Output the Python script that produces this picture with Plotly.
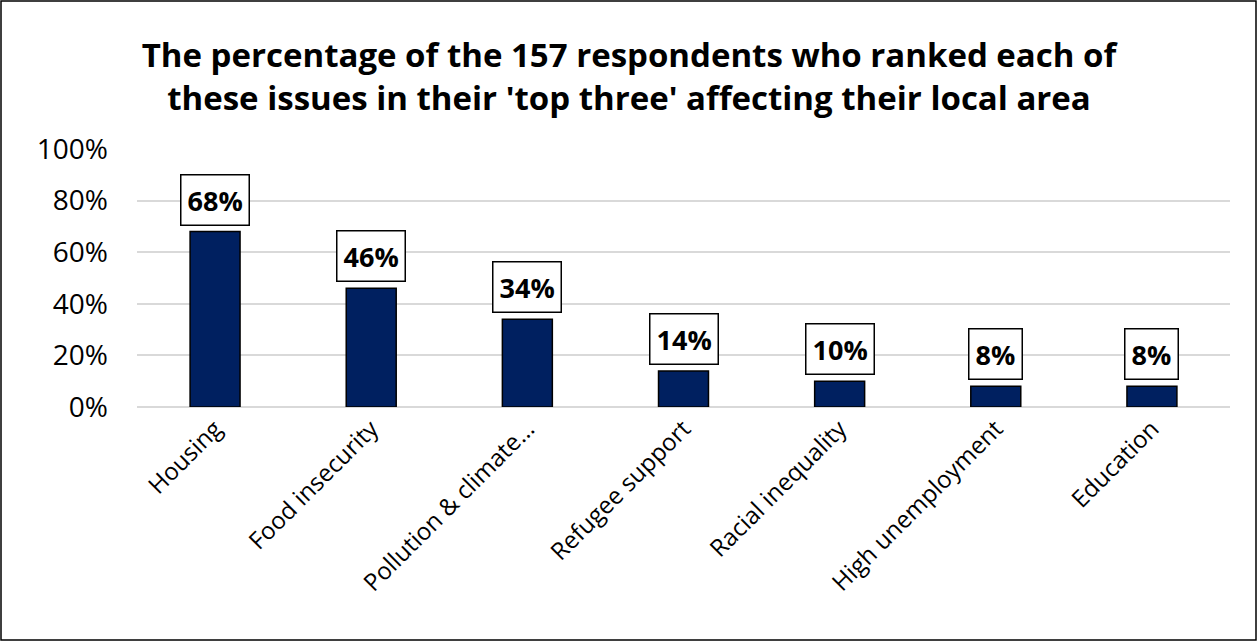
import plotly.graph_objects as go

# Survey issues and share of respondents ranking each in their top three
issues = ["Housing", "Food insecurity", "Pollution & climate…", "Refugee support",
          "Racial inequality", "High unemployment", "Education"]
shares = [68, 46, 34, 14, 10, 8, 8]
y_ticks = [0, 20, 40, 60, 80, 100]
y_tick_labels = [f"{v}%" for v in y_ticks]

W, H = 1258, 641
ML, MR, MT, MB = 137, 28, 149, 234
FONT = "Open Sans"

fig = go.Figure(go.Bar(
    x=issues, y=shares,
    width=0.32,
    marker=dict(color="#002060", line=dict(color="#000000", width=1.5)),
    hoverinfo="x+y",
))

# Boxed value labels above each bar
for cat, val in zip(issues, shares):
    fig.add_annotation(
        x=cat, y=val, text=f"<b>{val}%</b>", showarrow=False,
        yanchor="bottom", yshift=6,
        font=dict(family=FONT, size=27, color="#000000"),
        bgcolor="#ffffff", bordercolor="#000000", borderwidth=1.5, borderpad=6,
    )

# Frame around the whole chart
pw, ph = W - ML - MR, H - MT - MB
fig.add_shape(
    type="rect", xref="paper", yref="paper",
    x0=(1 - ML) / pw, x1=1 + (MR - 2) / pw,
    y0=-(MB - 1) / ph, y1=1 + (MT - 1) / ph,
    line=dict(color="#000000", width=1.5), fillcolor="rgba(0,0,0,0)", layer="above",
)

fig.update_layout(
    width=W, height=H,
    margin=dict(l=ML, r=MR, t=MT, b=MB),
    paper_bgcolor="#ffffff", plot_bgcolor="#ffffff",
    showlegend=False,
    title=dict(
        text="<b>The percentage of the 157 respondents who ranked each of<br>"
             "these issues in their 'top three' affecting their local area</b>",
        x=0.5, xanchor="center", y=1 - 67 / H, yanchor="middle",
        font=dict(family=FONT, size=33, color="#000000"),
    ),
    font=dict(family=FONT, color="#000000"),
    xaxis=dict(
        tickangle=-45, tickfont=dict(family=FONT, size=24, color="#000000"),
        showline=False, showgrid=False, ticks="", ticklabelstandoff=2,
    ),
    yaxis=dict(
        range=[0, 100], tickvals=y_ticks, ticktext=y_tick_labels,
        tickfont=dict(family=FONT, size=28, color="#000000"),
        showgrid=True, gridcolor="#d9d9d9", gridwidth=1.5,
        zeroline=True, zerolinecolor="#d9d9d9", zerolinewidth=1.5,
        showline=False, ticks="", ticklabelstandoff=28,
    ),
)

fig.write_html("out.html")
